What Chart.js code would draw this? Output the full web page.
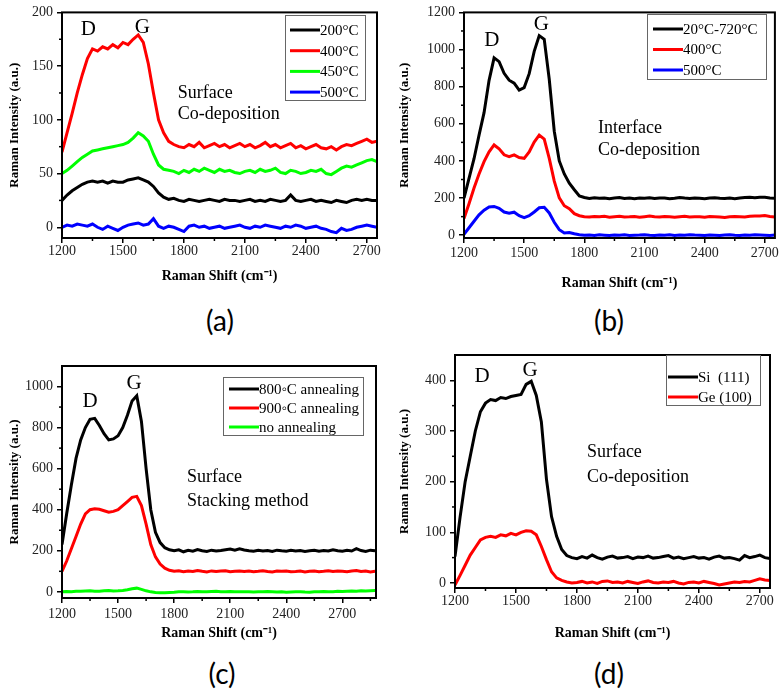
<!DOCTYPE html>
<html lang="en">
<head>
<meta charset="UTF-8">
<title>Raman spectra (a)-(d)</title>
<script src="https://cdn.jsdelivr.net/npm/chart.js"></script>
<style>
  body { margin: 0; background: #fff; width: 781px; height: 692px; position: relative; overflow: hidden; }
  .panel { position: absolute; }
  .tag { position: absolute; font-family: Lato, "Noto Sans", sans-serif; font-size: 28px; color: #000;
         transform: translate(-50%, -50%); line-height: 1; }
</style>
</head>
<body>
<div class="panel" style="left:0;top:0;width:390px;height:300px"><canvas id="chartA"></canvas></div>
<div class="panel" style="left:390px;top:0;width:391px;height:300px"><canvas id="chartB"></canvas></div>
<div class="panel" style="left:0;top:340px;width:390px;height:310px"><canvas id="chartC"></canvas></div>
<div class="panel" style="left:390px;top:340px;width:391px;height:310px"><canvas id="chartD"></canvas></div>
<div class="tag" style="left:220px;top:320px">(a)</div>
<div class="tag" style="left:609px;top:320px">(b)</div>
<div class="tag" style="left:222px;top:673px">(c)</div>
<div class="tag" style="left:609px;top:673px">(d)</div>

<script>
// Raman shift (cm-1), sampled every 25
const shift = [1200,1225,1250,1275,1300,1325,1350,1375,1400,1425,1450,1475,1500,1525,1550,1575,1600,1625,1650,1675,
  1700,1725,1750,1775,1800,1825,1850,1875,1900,1925,1950,1975,2000,2025,2050,2075,2100,2125,2150,2175,
  2200,2225,2250,2275,2300,2325,2350,2375,2400,2425,2450,2475,2500,2525,2550,2575,2600,2625,2650,2675,
  2700,2725,2750];
const shiftC = shift.concat([2775,2800,2825,2850,2875]);

const xTickLabels = [1200,1500,1800,2100,2400,2700];

// (a) Surface co-deposition
const labelsA = ['200°C','400°C','450°C','500°C'];
const a200 = [25,30,34,37,40,42,43,42,43,41, 43,42,42,44,45,46,44,42,38,32,
  28,26,27,25,24,26,25,24,25,26, 25,24,26,25,25,24,25,26,24,25,
  24,26,25,24,25,30,25,24,25,26, 24,25,24,23,25,24,23,25,26,25, 26,25,25];
const a400 = [70,88,106,125,142,157,166,164,168,166, 170,167,172,170,175,179,172,152,125,100,
  88,80,77,75,74,77,75,79,74,76, 78,75,77,74,76,78,75,77,74,76,
  79,75,77,74,76,78,74,76,73,75, 77,74,73,75,72,75,77,76,78,80, 82,79,80];
const a450 = [50,53,57,61,65,68,71,72,73,74, 75,76,77,79,83,88,85,80,68,58,
  54,53,52,50,53,51,54,52,55,53, 51,54,52,53,51,50,52,53,51,54,
  52,53,55,51,50,53,52,50,51,53, 52,54,50,49,52,55,57,56,58,60, 62,63,61];
const a500 = [0,2,1,3,2,1,3,0,-2,1, -1,-3,0,2,3,4,2,3,8,1,
  -1,1,0,-2,-4,1,2,0,1,-1, 0,1,-1,0,1,2,0,-1,1,0,
  2,1,0,-1,1,0,2,1,-1,0, 1,-1,-2,-4,-5,-1,-3,-2,0,1, 2,1,0];
const yTicksA = [0,50,100,150,200];

// (b) Interface co-deposition
const labelsB = ['20°C-720°C','400°C','500°C'];
const b2072 = [200,306,412,539,660,834,955,935,872,835, 819,782,795,870,990,1075,1055,840,560,400,
  330,280,245,212,203,198,202,199,201,197, 200,203,198,200,197,201,199,202,198,200,
  201,197,199,203,200,198,201,199,197,200, 202,199,198,200,197,201,203,204,202,205, 204,201,199];
const b400 = [90,170,254,330,396,449,486,465,433,423, 433,418,414,449,502,539,518,414,291,201,
  159,143,116,105,100,98,101,99,102,97, 100,102,98,99,101,97,100,103,99,98,
  101,99,97,100,102,98,100,99,97,101, 100,98,96,99,101,100,98,102,104,103, 106,101,98];
const b500 = [5,40,75,110,135,152,155,145,125,118, 124,105,95,105,125,148,150,120,70,30,
  12,15,8,3,0,1,-1,2,0,-2, 1,0,2,-1,0,1,3,0,-1,1,
  0,2,-1,1,0,3,1,0,-2,1, 0,-1,1,2,0,-1,1,0,2,1, 0,-1,1];
const yTicksB = [0,200,400,600,800,1000,1200];

// (c) Surface stacking method
const labelsC = ['800◦C annealing','900◦C annealing','no annealing'];
const c800 = [230,380,520,650,740,800,840,845,810,770, 740,745,760,800,860,930,955,830,600,400,
  290,240,215,205,200,205,195,202,198,206, 200,197,203,199,201,205,208,203,210,204,
  200,198,202,199,201,197,203,200,198,202, 199,201,197,200,203,198,201,199,205,200,
  198,202,199,210,201,197,203,200];
const c900 = [100,150,210,270,330,380,400,405,402,395, 388,392,400,420,440,460,465,420,330,230,
  170,135,115,105,100,103,98,101,99,104, 100,97,102,99,101,103,98,100,102,99,
  101,98,100,103,99,97,101,100,102,98, 99,101,97,100,102,98,100,103,99,101,
  100,98,102,104,99,101,97,100];
const cNone = [0,2,1,3,3,4,5,3,3,5, 6,4,5,7,10,15,18,12,5,0,
  -3,-5,-4,-3,-2,0,1,-1,0,2, 1,0,2,3,1,0,2,1,0,1,
  0,-1,1,0,2,1,-1,0,-2,-1, 0,1,-1,-2,0,1,2,0,1,3,
  2,3,4,3,5,4,5,6];
const yTicksC = [0,200,400,600,800,1000];

// (d) Surface co-deposition on two substrates
const labelsD = ['Si  (111)','Ge (100)'];
const dSi = [52,130,200,250,300,338,355,362,360,366, 364,368,370,372,392,398,370,318,205,131,
  92,66,54,50,48,52,49,55,50,47, 51,53,49,50,52,48,51,50,53,49,
  50,52,54,49,51,48,50,52,49,50, 47,51,53,49,50,48,45,54,50,52, 55,50,48];
const dGe = [-4,15,35,55,70,85,90,92,90,95, 93,98,95,100,103,102,95,72,46,22,
  10,5,2,0,1,3,0,2,-1,3, 4,1,2,0,3,1,-1,2,4,1,
  0,2,1,3,0,-2,1,2,0,3, 1,-1,-4,-2,0,2,1,3,2,5, 8,6,5];
const yTicksD = [0,100,200,300,400];

const BLACK = '#000000', RED = '#ff0000', GREEN = '#00ff00', BLUE = '#0000ff';
const SERIF = '"Liberation Serif", "Times New Roman", serif';

// frame, minor ticks, text notes and the boxed legend
const framePlugin = {
  id: 'frame',
  afterDatasetsDraw(chart, args, opts) {
    const {ctx, chartArea: a, scales: {x, y}} = chart;
    ctx.save();
    ctx.strokeStyle = '#000';
    ctx.lineWidth = 2;
    ctx.strokeRect(a.left, a.top, a.right - a.left, a.bottom - a.top);

    ctx.lineWidth = 1.5;
    opts.xMinor.forEach(v => {
      const px = x.getPixelForValue(v);
      ctx.beginPath(); ctx.moveTo(px, a.bottom); ctx.lineTo(px, a.bottom + 3); ctx.stroke();
    });
    opts.yMinor.forEach(v => {
      const py = y.getPixelForValue(v);
      ctx.beginPath(); ctx.moveTo(a.left, py); ctx.lineTo(a.left - 3, py); ctx.stroke();
    });

    ctx.fillStyle = '#000';
    ctx.textBaseline = 'middle';
    opts.notes.forEach(n => {
      ctx.font = n.size + 'px ' + SERIF;
      ctx.textAlign = n.align;
      ctx.fillText(n.text, x.getPixelForValue(n.x), y.getPixelForValue(n.y));
    });

    const lg = opts.legend;
    ctx.fillStyle = '#fff';
    ctx.fillRect(lg.x, lg.y, lg.w, lg.h);
    ctx.strokeStyle = '#666';
    ctx.lineWidth = 1;
    ctx.strokeRect(lg.x + 0.5, lg.y + 0.5, lg.w, lg.h);
    ctx.font = '15px ' + SERIF;
    ctx.textAlign = 'left';
    chart.data.datasets.forEach((ds, i) => {
      const ry = lg.row0 + i * lg.dy;
      ctx.strokeStyle = ds.borderColor;
      ctx.lineWidth = 3;
      ctx.beginPath(); ctx.moveTo(lg.lineX, ry); ctx.lineTo(lg.lineX + 30, ry); ctx.stroke();
      ctx.fillStyle = '#000';
      ctx.fillText(ds.label, lg.lineX + 30, ry + 1);
    });
    ctx.restore();
  }
};

function minorBetween(ticks, extra) {
  const out = [];
  for (let i = 0; i < ticks.length - 1; i++) out.push((ticks[i] + ticks[i + 1]) / 2);
  return out.concat(extra || []);
}

function makeChart(id, xs, series, cfg) {
  const datasets = series.map(s => ({
    label: s.label,
    data: xs.map((v, i) => ({x: v, y: s.values[i]})),
    borderColor: s.color,
    borderWidth: 3,
    pointRadius: 0,
    fill: false,
    tension: 0
  }));
  return new Chart(document.getElementById(id), {
    type: 'line',
    data: {datasets},
    options: {
      responsive: true,
      maintainAspectRatio: false,
      animation: false,
      layout: {padding: cfg.padding},
      plugins: {
        legend: {display: false},
        tooltip: {enabled: false},
        frame: {xMinor: cfg.xMinor, yMinor: cfg.yMinor, notes: cfg.notes, legend: cfg.legend}
      },
      scales: {
        x: {
          type: 'linear',
          min: 1200,
          max: cfg.xMax,
          afterBuildTicks: s => { s.ticks = xTickLabels.map(v => ({value: v})); },
          afterFit: s => { s.height = cfg.xHeight; },
          grid: {drawOnChartArea: false, color: '#000', lineWidth: 1.5, tickLength: 5},
          border: {display: false},
          ticks: {font: {family: SERIF, size: 14}, color: '#222', padding: cfg.xPad,
                  maxRotation: 0, autoSkip: false, callback: v => String(v)},
          title: {display: true, text: 'Raman Shift (cm⁻¹)', color: '#000',
                  font: {family: SERIF, size: 14, weight: 'bold'}, padding: {top: 0, bottom: cfg.xTitlePad}}
        },
        y: {
          min: cfg.yMin,
          max: cfg.yMax,
          afterBuildTicks: s => { s.ticks = cfg.yTicks.map(v => ({value: v})); },
          afterFit: s => { s.width = cfg.yWidth; },
          grid: {drawOnChartArea: false, color: '#000', lineWidth: 1.5, tickLength: 5},
          border: {display: false},
          ticks: {font: {family: SERIF, size: 14}, color: '#222', padding: 4, callback: v => String(v)},
          title: {display: true, text: 'Raman Intensity (a.u.)', color: '#000',
                  font: {family: SERIF, size: 13, weight: 'bold'}, padding: {top: 7, bottom: 0}}
        }
      }
    },
    plugins: [framePlugin]
  });
}

makeChart('chartA', shift, [
  {label: labelsA[0], values: a200, color: BLACK},
  {label: labelsA[1], values: a400, color: RED},
  {label: labelsA[2], values: a450, color: GREEN},
  {label: labelsA[3], values: a500, color: BLUE}
], {
  xMax: 2750, yMin: -10, yMax: 200, yTicks: yTicksA,
  xMinor: minorBetween(xTickLabels), yMinor: minorBetween(yTicksA),
  padding: {top: 7, right: 13, left: 0, bottom: 0},
  yWidth: 62, xHeight: 62, xPad: 0, xTitlePad: 15,
  notes: [
    {text: 'D', x: 1330, y: 184, size: 21, align: 'center'},
    {text: 'G', x: 1595, y: 186, size: 21, align: 'center'},
    {text: 'Surface', x: 1770, y: 125, size: 18, align: 'left'},
    {text: 'Co-deposition', x: 1770, y: 105, size: 18, align: 'left'}
  ],
  legend: {x: 285, y: 15, w: 80, h: 85, row0: 30, dy: 20.7, lineX: 290}
});

makeChart('chartB', shift, [
  {label: labelsB[0], values: b2072, color: BLACK},
  {label: labelsB[1], values: b400, color: RED},
  {label: labelsB[2], values: b500, color: BLUE}
], {
  xMax: 2750, yMin: -15, yMax: 1200, yTicks: yTicksB,
  xMinor: minorBetween(xTickLabels), yMinor: minorBetween(yTicksB),
  padding: {top: 8, right: 4, left: 0, bottom: 0},
  yWidth: 74, xHeight: 62, xPad: 2, xTitlePad: 8,
  notes: [
    {text: 'D', x: 1339, y: 1047, size: 21, align: 'center'},
    {text: 'G', x: 1586, y: 1137, size: 21, align: 'center'},
    {text: 'Interface', x: 1868, y: 577, size: 18, align: 'left'},
    {text: 'Co-deposition', x: 1868, y: 455, size: 18, align: 'left'}
  ],
  legend: {x: 257, y: 14, w: 119, h: 65, row0: 29, dy: 20.5, lineX: 263}
});

makeChart('chartC', shiftC, [
  {label: labelsC[0], values: c800, color: BLACK},
  {label: labelsC[1], values: c900, color: RED},
  {label: labelsC[2], values: cNone, color: GREEN}
], {
  xMax: 2880, yMin: -30, yMax: 1100, yTicks: yTicksC,
  xMinor: minorBetween(xTickLabels, [2850]), yMinor: minorBetween(yTicksC),
  padding: {top: 26, right: 14, left: 0, bottom: 0},
  yWidth: 62, xHeight: 52, xPad: 3, xTitlePad: 8,
  notes: [
    {text: 'D', x: 1350, y: 925, size: 21, align: 'center'},
    {text: 'G', x: 1585, y: 1017, size: 21, align: 'center'},
    {text: 'Surface', x: 1869, y: 559, size: 18, align: 'left'},
    {text: 'Stacking method', x: 1869, y: 442, size: 18, align: 'left'}
  ],
  legend: {x: 223, y: 37, w: 140, h: 58, row0: 49, dy: 19, lineX: 229}
});

makeChart('chartD', shift, [
  {label: labelsD[0], values: dSi, color: BLACK},
  {label: labelsD[1], values: dGe, color: RED}
], {
  xMax: 2750, yMin: -10, yMax: 450, yTicks: yTicksD,
  xMinor: minorBetween(xTickLabels), yMinor: minorBetween(yTicksD),
  padding: {top: 15, right: 11, left: 0, bottom: 0},
  yWidth: 65, xHeight: 62, xPad: 0, xTitlePad: 8,
  notes: [
    {text: 'D', x: 1333, y: 407, size: 21, align: 'center'},
    {text: 'G', x: 1569, y: 420, size: 21, align: 'center'},
    {text: 'Surface', x: 1849, y: 257, size: 18, align: 'left'},
    {text: 'Co-deposition', x: 1849, y: 209, size: 18, align: 'left'}
  ],
  legend: {x: 276, y: 15, w: 94, h: 50, row0: 37, dy: 20, lineX: 278}
});
</script>
</body>
</html>
